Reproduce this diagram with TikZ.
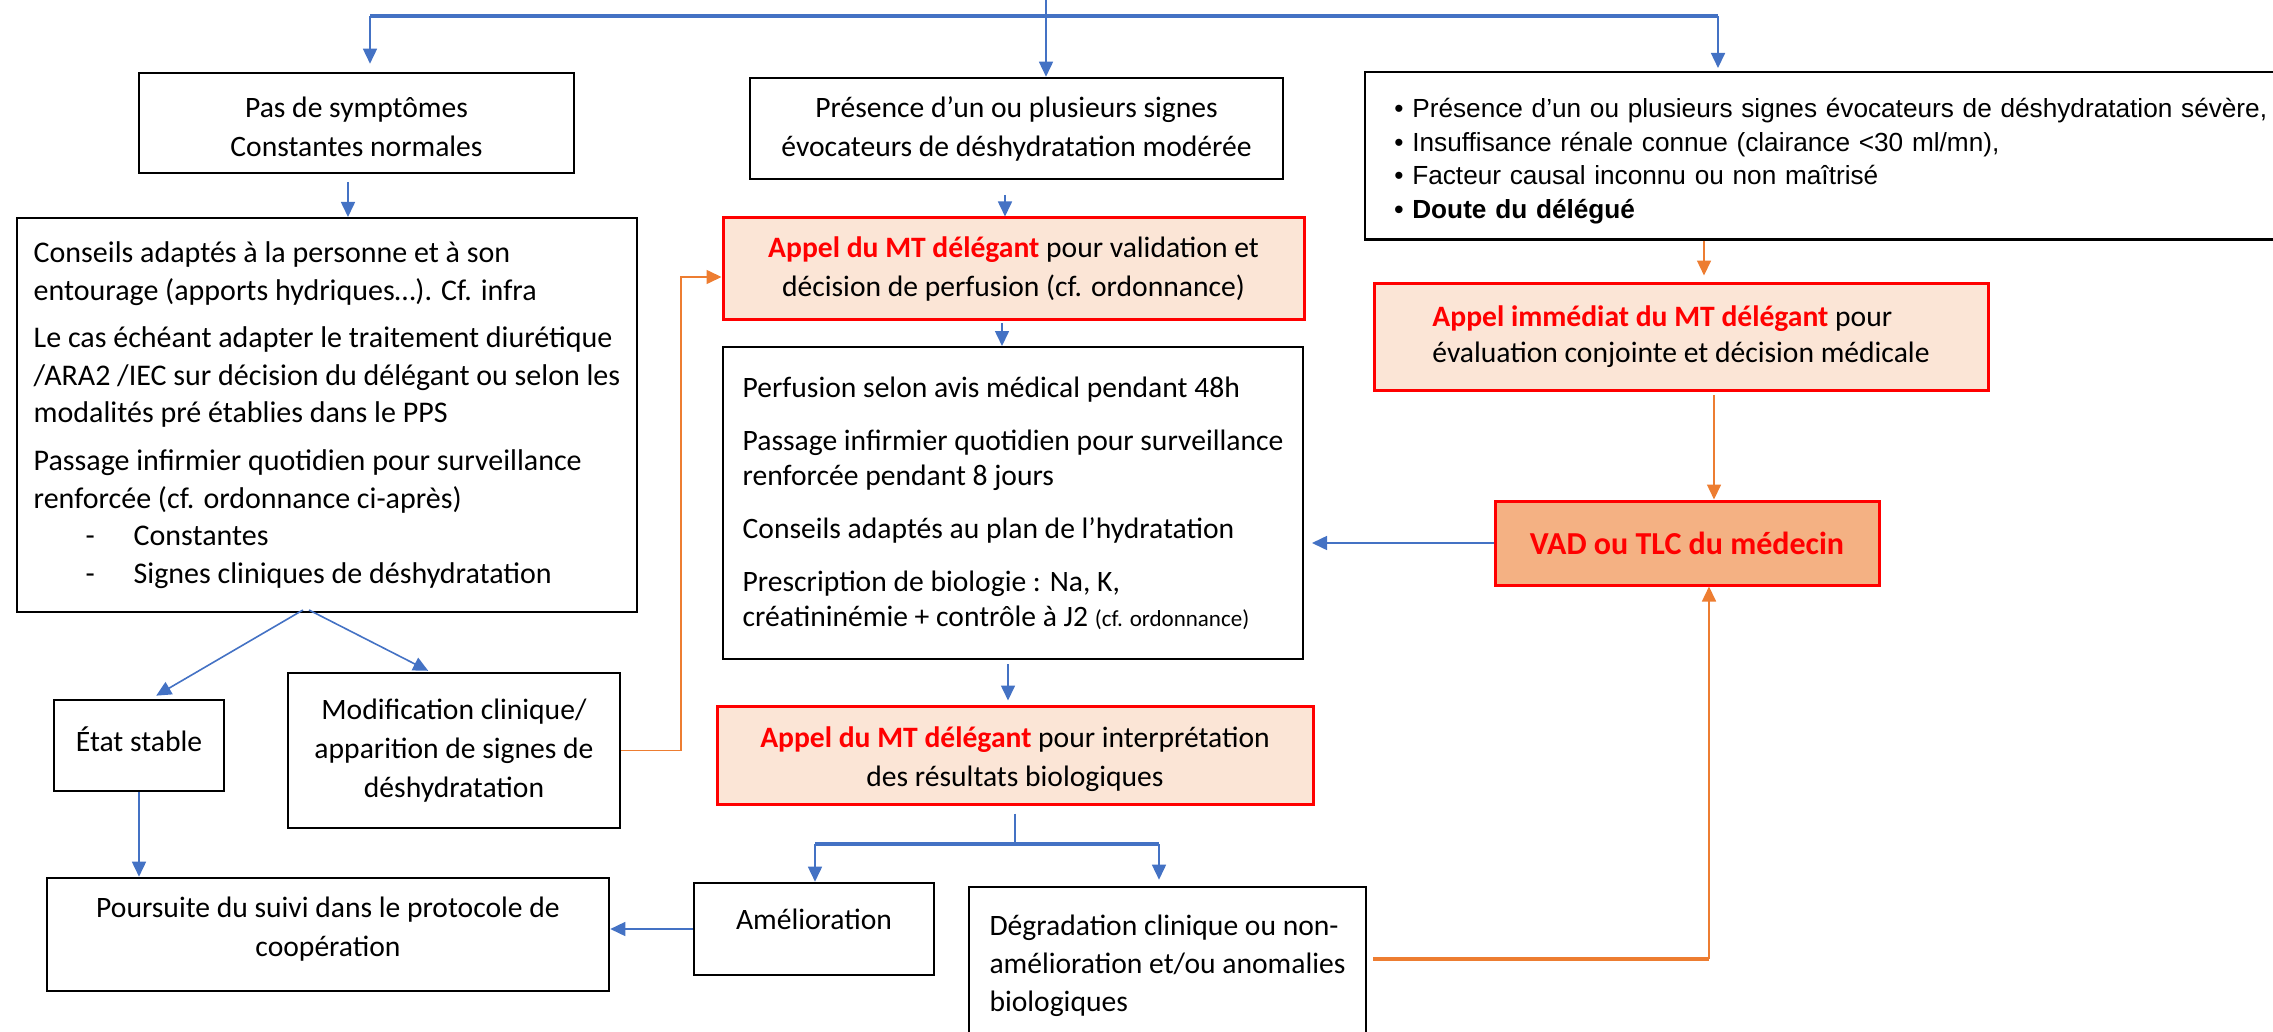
\documentclass[tikz,border=0pt]{standalone}
\usepackage{fontspec}
\setmainfont{Carlito}
\newfontfamily\arialfont{Liberation Sans}
\usetikzlibrary{arrows.meta}
\definecolor{lineblue}{HTML}{4472C4}
\definecolor{lineorange}{HTML}{ED7D31}
\definecolor{callfill}{HTML}{FBE5D6}
\definecolor{vadfill}{HTML}{F4B183}
\definecolor{alertred}{HTML}{FF0000}
\newcommand\redbf[1]{\textcolor{alertred}{\textbf{#1}}}
\newcommand\dashitem[1]{\makebox[50pt][l]{\hspace*{26pt}-}#1}

\begin{document}
\begin{tikzpicture}[x=0.5pt,y=-0.5pt,
  box/.style={draw=black, line width=1.3pt, inner sep=0pt, align=center,
    font=\fontsize{14.8}{19.5}\selectfont},
  textbox/.style={draw=black, line width=1pt, inner sep=0pt, align=left,
    font=\fontsize{14.8}{17.5}\selectfont},
  callbox/.style={draw=alertred, fill=callfill, line width=1.5pt, inner sep=0pt,
    align=center, font=\fontsize{14.8}{19.5}\selectfont},
  vadbox/.style={callbox, fill=vadfill, text=alertred,
    font=\fontsize{16}{20}\selectfont\bfseries},
  barrow/.style={draw=lineblue, line width=0.8pt, -{Triangle[length=7.5pt,width=7pt]}},
  bline/.style={draw=lineblue, line width=1.6pt},
  oarrow/.style={draw=lineorange, line width=0.8pt, -{Triangle[length=7.5pt,width=7pt]}},
  oline/.style={draw=lineorange, line width=1.6pt},
]
\useasboundingbox (0,0) rectangle (2273,1032);
\clip (0,0) rectangle (2273,1032);

% ---- boxes ----
\node[box, minimum width=217.5pt, minimum height=50pt] (pas) at (356.5,123)
  {\rule{0pt}{14pt}Pas de symptômes\\Constantes normales};
\node[box, minimum width=266.5pt, minimum height=50.5pt] (mod) at (1016.5,128.5)
  {Présence d’un ou plusieurs signes\\évocateurs de déshydratation modérée};
% text block of the severe-signs box; its frame runs past the right edge
\node[inner xsep=14.5pt, inner ysep=0pt, minimum height=83.5pt, text width=600pt,
  align=left, anchor=north west,
  font=\arialfont\fontsize{13.1}{16.8}\selectfont] (sev) at (1365,72)
  {\rule{0pt}{15pt}• Présence d’un ou plusieurs signes évocateurs de déshydratation sévère,\\
   • Insuffisance rénale connue (clairance <30 ml/mn),\\
   • Facteur causal inconnu ou non maîtrisé\\
   \textbf{• Doute du délégué}};
\draw[line width=1.3pt] (sev.north east) -- (sev.north west) -- (sev.south west) -- (sev.south east);

\node[textbox, minimum width=310pt, minimum height=197pt,
  font=\fontsize{15}{18.8}\selectfont] (cons) at (327,415)
  {Conseils adaptés à la personne et à son\\
   entourage (apports hydriques…). Cf. infra\\[5pt]
   Le cas échéant adapter le traitement diurétique\\
   /ARA2 /IEC sur décision du délégant ou selon les\\
   modalités pré établies dans le PPS\\[5pt]
   Passage infirmier quotidien pour surveillance\\
   renforcée (cf. ordonnance ci-après)\\
   \dashitem{Constantes}\\
   \dashitem{Signes cliniques de déshydratation}};

\node[callbox, minimum width=290.5pt, minimum height=50.5pt] (val) at (1013.5,268.5)
  {\redbf{Appel du MT délégant} pour validation et\\décision de perfusion (cf. ordonnance)};
\node[callbox, align=left, minimum width=307pt, minimum height=53.5pt,
  font=\fontsize{14.8}{18}\selectfont] (imm) at (1681,336.5)
  {\redbf{Appel immédiat du MT délégant} pour\\évaluation conjointe et décision médicale};

\node[textbox, minimum width=290pt, minimum height=156pt] (perf) at (1013,503)
  {Perfusion selon avis médical pendant 48h\\[9pt]
   Passage infirmier quotidien pour surveillance\\
   renforcée pendant 8 jours\\[9pt]
   Conseils adaptés au plan de l’hydratation\\[9pt]
   Prescription de biologie : Na, K,\\
   créatininémie + contrôle à J2 {\fontsize{11.5}{17.5}\selectfont(cf. ordonnance)}};

\node[vadbox, minimum width=192pt, minimum height=42pt] (vad) at (1687,543)
  {VAD ou TLC du médecin};

\node[box, minimum width=85pt, minimum height=45.5pt, text depth=6pt] (etat) at (139,745.5)
  {État stable};
\node[box, minimum width=166pt, minimum height=77.5pt] (modif) at (454,750.5)
  {Modification clinique/\\apparition de signes de\\déshydratation};
\node[callbox, minimum width=298pt, minimum height=49pt] (interp) at (1015,755)
  {\rule{0pt}{15pt}\redbf{Appel du MT délégant} pour interprétation\\des résultats biologiques};

\node[box, minimum width=281pt, minimum height=56.5pt] (pours) at (328,934.5)
  {Poursuite du suivi dans le protocole de\\coopération\rule[-8pt]{0pt}{0pt}};
\node[box, minimum width=120pt, minimum height=46pt, text depth=10pt] (amel) at (814,929)
  {Amélioration};
\node[box, align=left, minimum width=198.5pt, minimum height=79pt,
  font=\fontsize{14.8}{19}\selectfont] (degr) at (1167.5,966)
  {Dégradation clinique ou non-\\amélioration et/ou anomalies\\biologiques};

% ---- top distribution ----
\coordinate (tIn) at (1046,-4);
\coordinate (hL) at (370,16);
\coordinate (hR) at (1718,16);
\draw[bline] (hL) -- (hR);
\draw[barrow] (tIn) -- (tIn |- mod.north);
\draw[barrow, shorten >=4pt] (hL) -- (hL |- pas.north);
\draw[barrow, shorten >=2pt] (hR) -- (hR |- sev.north);

% ---- vertical links ----
\coordinate (p1) at (348,182);
\draw[barrow] (p1) -- (p1 |- cons.north);
\coordinate (p2) at (1005,195);
\draw[barrow] (p2) -- (p2 |- val.north);
\coordinate (p3) at (1002,323);
\draw[barrow] (p3) -- (p3 |- perf.north);
\coordinate (p4) at (1008,664);
\draw[barrow, shorten >=2pt] (p4) -- (p4 |- interp.north);
\coordinate (p5) at (1704,241);
\draw[oarrow, shorten >=3pt] (p5) -- (p5 |- imm.north);
\coordinate (p6) at (1714,395);
\draw[oarrow] (p6) -- (p6 |- vad.north);

% ---- VAD back to perfusion ----
\draw[barrow, shorten >=4pt] (vad.west) -- (vad.west -| perf.east);

% ---- split under the first advice box ----
\draw[barrow, shorten >=3pt] ([xshift=-12pt,yshift=1.5pt]cons.south) -- ([xshift=6pt]etat.north);
\draw[barrow, shorten >=1pt] ([xshift=-9pt,yshift=1.5pt]cons.south) -- ([xshift=-12pt]modif.north);
\draw[barrow] (etat.south) -- (etat.south |- pours.north);

% ---- clinical change back to the first call ----
\coordinate (oc) at (681,277);
\draw[oarrow] (modif.east) -| (oc) -- (oc -| val.west);

% ---- results split ----
\coordinate (s0) at (1015,844);
\coordinate (sL) at (815,844);
\coordinate (sR) at (1159,844);
\draw[draw=lineblue, line width=1pt, shorten <=4pt] (interp.south) -- (s0);
\draw[bline] (sL) -- (sR);
\draw[barrow] (sL) -- (sL |- amel.north);
\draw[barrow, shorten >=3pt] (sR) -- (sR |- degr.north);
\draw[barrow] (amel.west) -- (amel.west -| pours.east);

% ---- degradation to the physician ----
\coordinate (oc2) at (1709,959);
\draw[oline] ([yshift=3.5pt,xshift=3pt]degr.east) -- (oc2);
\draw[oarrow] (oc2) -- (oc2 |- vad.south);
\end{tikzpicture}
\end{document}
